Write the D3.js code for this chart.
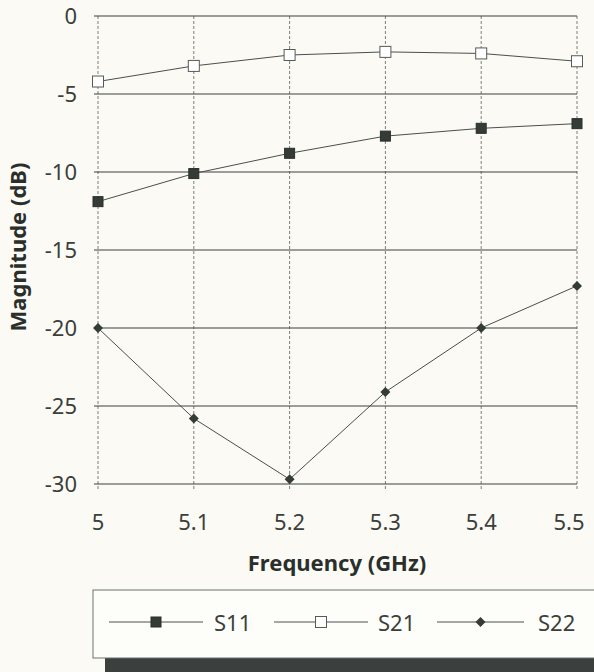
<!DOCTYPE html>
<html lang="en">
<head>
<meta charset="UTF-8">
<script src="https://d3js.org/d3.v7.min.js"></script>
<style>
  html, body { margin: 0; padding: 0; background: #fbfaf4; }
  svg { display: block; font-family: 'Noto Sans', sans-serif; }
</style>
</head>
<body>
<div id="chart"></div>
<script>
  // frequency points (GHz)
  const freqs = [5.0, 5.1, 5.2, 5.3, 5.4, 5.5];
  // magnitudes in dB
  const s11 = [-11.9, -10.1, -8.8, -7.7, -7.2, -6.9];
  const s21 = [-4.2, -3.2, -2.5, -2.3, -2.4, -2.9];
  const s22 = [-20.0, -25.8, -29.7, -24.1, -20.0, -17.3];
  const yTicks = [0, -5, -10, -15, -20, -25, -30];
  const xTicks = [5, 5.1, 5.2, 5.3, 5.4, 5.5];

  const series = [
    { name: "S11", values: s11, marker: "filled" },
    { name: "S21", values: s21, marker: "open" },
    { name: "S22", values: s22, marker: "diamond" }
  ];

  const width = 594, height = 672;
  const ink = "#3a403c";
  const labelCol = "#3a3f3b";
  const svg = d3.select("#chart").append("svg")
    .attr("width", width).attr("height", height);

  const x = d3.scaleLinear().domain([5, 5.5]).range([98, 577]);
  const y = d3.scaleLinear().domain([-30, 0]).range([484, 16]);

  // vertical grid (dashed)
  svg.append("g").selectAll("line").data(xTicks).join("line")
    .attr("x1", d => x(d)).attr("x2", d => x(d))
    .attr("y1", y(0)).attr("y2", y(-30) + 6)
    .attr("stroke", "#7a807b").attr("stroke-width", 1)
    .attr("stroke-dasharray", "3,2");

  // horizontal grid (solid)
  svg.append("g").selectAll("line").data(yTicks).join("line")
    .attr("x1", x(5) - 4).attr("x2", x(5.5))
    .attr("y1", d => y(d)).attr("y2", d => y(d))
    .attr("stroke", ink).attr("stroke-width", 1.2);

  // y tick labels
  svg.append("g").selectAll("text").data(yTicks).join("text")
    .attr("x", 77).attr("y", d => y(d) + 8)
    .attr("text-anchor", "end")
    .attr("font-size", 22).attr("fill", labelCol)
    .text(d => d);

  // x tick labels
  svg.append("g").selectAll("text").data(xTicks).join("text")
    .attr("x", d => x(d) - (d === 5.5 ? 8 : 0)).attr("y", 530)
    .attr("text-anchor", "middle")
    .attr("font-size", 22).attr("fill", labelCol)
    .text(d => d);

  // axis titles
  svg.append("text")
    .attr("x", 337).attr("y", 571)
    .attr("text-anchor", "middle")
    .attr("font-size", 22).attr("font-weight", "bold").attr("fill", "#2a2f2b")
    .text("Frequency (GHz)");

  svg.append("text")
    .attr("transform", "translate(26,247) rotate(-90)")
    .attr("text-anchor", "middle")
    .attr("font-size", 22).attr("font-weight", "bold").attr("fill", "#2a2f2b")
    .text("Magnitude (dB)");

  const line = d3.line().x(d => x(d[0])).y(d => y(d[1]));

  function drawMarker(g, type, cx, cy) {
    if (type === "filled") {
      g.append("rect").attr("x", cx - 5).attr("y", cy - 5)
        .attr("width", 10).attr("height", 10)
        .attr("fill", "#353b37").attr("stroke", "#2a2f2b");
    } else if (type === "open") {
      g.append("rect").attr("x", cx - 5.5).attr("y", cy - 5.5)
        .attr("width", 11).attr("height", 11)
        .attr("fill", "#ffffff").attr("stroke", "#555b57").attr("stroke-width", 1);
    } else {
      g.append("path")
        .attr("d", `M${cx},${cy - 5}L${cx + 5},${cy}L${cx},${cy + 5}L${cx - 5},${cy}Z`)
        .attr("fill", "#353b37");
    }
  }

  series.forEach(s => {
    const pts = freqs.map((f, i) => [f, s.values[i]]);
    svg.append("path").datum(pts)
      .attr("d", line)
      .attr("fill", "none").attr("stroke", "#4a504c").attr("stroke-width", 1);
    const g = svg.append("g");
    pts.forEach(p => drawMarker(g, s.marker, x(p[0]), y(p[1])));
  });

  // legend: shadow + box
  svg.append("rect")
    .attr("x", 105).attr("y", 600).attr("width", 500).attr("height", 80)
    .attr("fill", "#3b3f3d");
  svg.append("rect")
    .attr("x", 93).attr("y", 590).attr("width", 510).attr("height", 68)
    .attr("fill", "#fdfdfa").attr("stroke", "#6d726e").attr("stroke-width", 1);

  const legendItems = [
    { s: series[0], x1: 109, x2: 203, tx: 214 },
    { s: series[1], x1: 274, x2: 368, tx: 378 },
    { s: series[2], x1: 437, x2: 524, tx: 538 }
  ];
  const ly = 622;
  legendItems.forEach(it => {
    const g = svg.append("g");
    g.append("line").attr("x1", it.x1).attr("x2", it.x2)
      .attr("y1", ly).attr("y2", ly)
      .attr("stroke", "#4a504c").attr("stroke-width", 1);
    drawMarker(g, it.s.marker, (it.x1 + it.x2) / 2, ly);
    g.append("text").attr("x", it.tx).attr("y", ly + 9)
      .attr("font-size", 22).attr("fill", labelCol)
      .text(it.s.name);
  });
</script>
</body>
</html>
